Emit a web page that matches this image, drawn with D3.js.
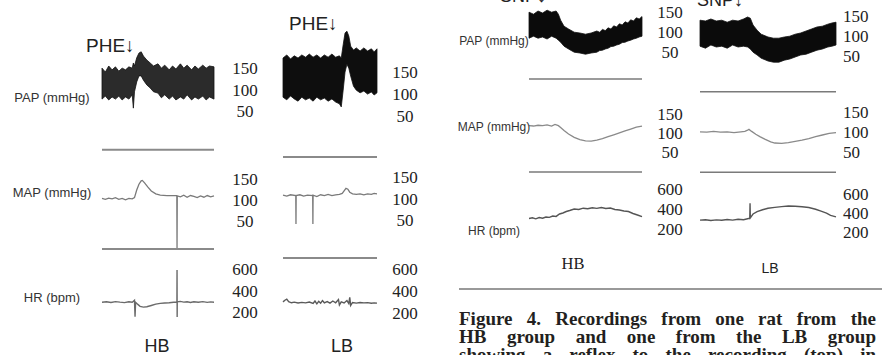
<!DOCTYPE html>
<html>
<head>
<meta charset="utf-8">
<script src="https://cdn.jsdelivr.net/npm/d3@7"></script>
<style>
  html, body { margin: 0; padding: 0; background: #fff; }
  svg { display: block; }
  text.tick-num { font-family: "Liberation Serif", "Times New Roman", serif; font-size: 17px; fill: #222; }
</style>
</head>
<body>
<svg id="fig" width="882" height="355"></svg>
<script>
// t = % of the recording window, pressures in mmHg, HR in bpm
const papTicks = [150, 100, 50];
const mapTicks = [150, 100, 50];
const hrTicks = [600, 400, 200];

const channelLabels = ['PAP (mmHg)', 'MAP (mmHg)', 'HR (bpm)'];
const drugLabels = ['PHE↓', 'PHE↓', 'SNP↓', 'SNP↓'];
const groupLabels = ['HB', 'LB', 'HB', 'LB'];
const captionLines = [
  'Figure 4. Recordings from one rat from the',
  'HB group and one from the LB group',
  'showing a reflex to the recording (top) in'
];

// phenylephrine, pulsatile pressure as [t, systolic, diastolic]
const phePapHB = [
  [0,152,80],[3,143,87],[6,157,78],[9,148,85],[12,155,80],[15,145,87],[18,152,78],
  [21,148,85],[24,155,80],[27,152,90],[28,164,59],[29,157,97],[31,176,120],[33,187,134],
  [35,190,134],[37,180,124],[40,171,113],[43,164,106],[46,157,97],[50,162,94],[53,152,83],
  [56,159,90],[60,148,80],[63,157,87],[66,150,78],[70,162,85],[73,152,80],[76,159,90],
  [80,148,78],[83,157,85],[86,150,80],[90,159,87],[93,152,78],[96,157,85],[100,155,80]
];
const pheMapHB = [
  [0,106],[3,104],[6,107],[9,105],[12,108],[15,104],[18,106],[21,103],[24,106],[27,105],
  [29,108],[31,126],[33,140],[35,148],[36,149],[38,143],[41,133],[44,124],[48,117],[52,114],
  [58,113],[64,113],[66.8,113],[67,-14],[67.2,112],[70,110],[73,114],[76,109],[79,113],
  [82,111],[85,108],[88,112],[91,109],[94,113],[97,110],[100,112]
];
const pheHrHB = [
  [0,300],[4,305],[8,298],[12,306],[16,301],[20,297],[24,304],[27,300],[29,318],[29.5,165],
  [30,300],[32,280],[34,262],[37,255],[40,258],[44,270],[48,282],[52,290],[56,293],[60,296],
  [64,300],[66.9,302],[67,600],[67.1,163],[67.2,304],[70,308],[73,301],[76,305],[79,298],
  [82,304],[86,300],[90,306],[94,299],[97,303],[100,300]
];
const phePapLB = [
  [0,184,95],[4,191,89],[8,182,98],[12,189,91],[16,184,86],[20,191,95],[24,186,89],
  [28,193,93],[32,186,86],[36,191,95],[40,184,89],[44,191,93],[48,186,86],[52,193,91],
  [56,186,84],[60,189,80],[62,184,73],[64,214,111],[66,241,152],[68,245,170],[70,234,161],
  [72,211,143],[75,202,120],[78,207,111],[82,200,105],[86,207,109],[90,200,102],
  [94,205,107],[97,198,100],[100,205,105]
];
const pheMapLB = [
  [0,110],[4,108],[8,111],[13.6,109],[13.8,43],[14,109],[18,111],[22,108],[26,110],
  [31.6,109],[31.8,43],[32,110],[36,107],[40,111],[44,109],[48,112],[52,109],[56,111],
  [60,112],[63,114],[65,120],[67,126],[69,124],[71,117],[74,113],[78,112],[82,113],
  [86,111],[90,113],[94,112],[97,114],[100,113]
];
const pheHrLB = [
  [0,310],[2,325],[4,335],[6,312],[9,302],[12,308],[16,300],[20,306],[24,301],[28,309],
  [32,296],[34,318],[36,292],[38,315],[40,298],[42,322],[44,302],[47,313],[50,299],
  [53,318],[56,302],[59,332],[60,282],[62,310],[65,300],[68,322],[70,295],[71,352],
  [72,278],[74,305],[78,299],[82,305],[86,301],[90,303],[94,298],[97,301],[100,299]
];

// sodium nitroprusside
const snpPapHB = [
  [0,152,87],[4,147,92],[8,155,87],[12,150,90],[16,157,85],[20,152,92],[24,155,87],
  [26,147,82],[28,132,77],[31,117,67],[35,110,60],[40,102,52],[45,100,50],[50,97,47],
  [55,100,50],[60,105,52],[62.5,102,56],[65,109,57],[67.5,106,60],[70,113,62],[72.5,110,66],
  [75,118,67],[77.5,115,70],[80,123,72],[82.5,120,76],[85,128,77],[87.5,125,80],[90,133,82],
  [92.5,130,85],[95,138,87],[97.5,135,90],[100,141,92]
];
const snpMapHB = [
  [0,122],[4,121],[8,123],[12,122],[16,124],[20,121],[23,125],[26,122],[28,117],[31,109],
  [35,100],[40,91],[45,85],[50,82],[55,81],[60,84],[65,88],[70,93],[75,98],[80,103],
  [85,108],[90,113],[95,118],[100,121]
];
const snpHrHB = [
  [0,315],[3,322],[6,312],[9,325],[12,318],[15,330],[18,326],[21,340],[24,336],[27,360],
  [30,370],[33,385],[36,395],[40,410],[44,405],[48,418],[52,412],[56,422],[60,416],
  [64,425],[68,415],[72,420],[76,405],[80,400],[84,390],[88,385],[92,365],[96,350],[100,333]
];
const snpPapLB = [
  [0,142,77],[4,140,72],[8,145,80],[12,140,75],[16,142,77],[20,137,72],[24,142,80],
  [28,140,75],[32,145,77],[35,150,75],[37,147,70],[39,130,62],[42,117,55],[45,107,47],
  [50,100,40],[54,97,37],[58,97,37],[62,100,42],[66,102,45],[70,107,50],[74,110,55],
  [78,115,57],[82,120,62],[86,125,67],[90,127,70],[94,132,75],[97,135,77],[100,137,80]
];
const snpMapLB = [
  [0,103],[5,102],[10,104],[15,102],[20,103],[25,101],[30,103],[33,104],[35,107],[36,109],
  [38,104],[41,97],[44,91],[48,84],[52,78],[55,75],[60,74],[65,76],[70,79],[75,82],
  [80,86],[85,91],[90,95],[95,99],[100,101]
];
const snpHrLB = [
  [0,335],[4,340],[8,332],[12,338],[16,334],[20,342],[24,336],[28,345],[32,340],[35,350],
  [36.6,355],[36.8,512],[37,360],[39,400],[42,425],[46,445],[50,460],[55,470],[60,478],
  [65,484],[70,482],[75,477],[80,468],[85,450],[89,430],[93,410],[96,385],[100,370]
];

// layout: x span of each recording, tick column, pixel rows for 50/150 mmHg and 200/600 bpm
const panels = [
  { pap: phePapHB, map: pheMapHB, hr: pheHrHB, x: [102, 214], tickX: 245, anchor: 'middle',
    yPap: [112, 69], yMap: [222, 180], yHr: [313, 270], papFloor: -38, mapFloor: -14,
    band: '#2b2b2b', trace: '#7a7a7a', hrTrace: '#6a6a6a', floor: '#8a8a8a', floorW: 2 },
  { pap: phePapLB, map: pheMapLB, hr: pheHrLB, x: [283, 377], tickX: 405, anchor: 'middle',
    yPap: [117, 73], yMap: [221, 178], yHr: [314, 270], papFloor: -41, mapFloor: -36,
    band: '#0e0e0e', trace: '#7a7a7a', hrTrace: '#5a5a5a', floor: '#8a8a8a', floorW: 2 },
  { pap: snpPapHB, map: snpMapHB, hr: snpHrHB, x: [529, 642], tickX: 670, anchor: 'middle',
    yPap: [53, 13], yMap: [153, 115], yHr: [230, 190], papFloor: -15, mapFloor: 0,
    band: '#0b0b0b', trace: '#8a8a8a', hrTrace: '#555', floor: '#7a7a7a', floorW: 1.6 },
  { pap: snpPapLB, map: snpMapLB, hr: snpHrLB, x: [700, 836], tickX: 843, anchor: 'start',
    yPap: [57, 17], yMap: [153, 113], yHr: [233, 195], papFloor: -37, mapFloor: 2,
    band: '#0b0b0b', trace: '#8a8a8a', hrTrace: '#555', floor: '#7a7a7a', floorW: 1.6 }
];

const svg = d3.select('#fig');

panels.forEach(p => {
  const x = d3.scaleLinear().domain([0, 100]).range(p.x);
  const yPap = d3.scaleLinear().domain([50, 150]).range(p.yPap);
  const yMap = d3.scaleLinear().domain([50, 150]).range(p.yMap);
  const yHr = d3.scaleLinear().domain([200, 600]).range(p.yHr);
  const g = svg.append('g');

  g.append('path')
    .datum(p.pap)
    .attr('d', d3.area().x(d => x(d[0])).y0(d => yPap(d[2])).y1(d => yPap(d[1])))
    .attr('fill', p.band)
    .attr('stroke', '#111')
    .attr('stroke-width', 0.8);

  g.append('path')
    .datum(p.map)
    .attr('d', d3.line().x(d => x(d[0])).y(d => yMap(d[1])))
    .attr('fill', 'none')
    .attr('stroke', p.trace)
    .attr('stroke-width', 1.3);

  g.append('path')
    .datum(p.hr)
    .attr('d', d3.line().x(d => x(d[0])).y(d => yHr(d[1])))
    .attr('fill', 'none')
    .attr('stroke', p.hrTrace)
    .attr('stroke-width', 1.4);

  [[yPap, p.papFloor], [yMap, p.mapFloor]].forEach(([y, v]) => {
    g.append('line')
      .attr('x1', x(0)).attr('x2', x(100))
      .attr('y1', y(v)).attr('y2', y(v))
      .attr('stroke', p.floor)
      .attr('stroke-width', p.floorW);
  });

  // tick numbers placed by the channel scales
  [[yPap, papTicks], [yMap, mapTicks], [yHr, hrTicks]].forEach(([y, ticks]) => {
    g.append('g')
      .selectAll('text')
      .data(ticks)
      .join('text')
      .attr('class', 'tick-num')
      .attr('x', p.tickX)
      .attr('y', d => y(d))
      .attr('dy', '0.32em')
      .attr('text-anchor', p.anchor)
      .text(d => d);
  });
});

// channel names, left and right figures
const labelPos = [
  { x: 52, y: [97, 192, 297], size: 13 },
  { x: 494, y: [41, 127, 231], size: 12 }
];
labelPos.forEach(lp => {
  channelLabels.forEach((t, i) => {
    svg.append('text')
      .attr('x', lp.x).attr('y', lp.y[i])
      .attr('dy', '0.35em')
      .attr('text-anchor', 'middle')
      .attr('fill', '#333')
      .style('font-family', '"Liberation Sans", Arial, sans-serif')
      .style('font-size', lp.size + 'px')
      .text(t);
  });
});

const drugPos = [[86, 52, 19], [289, 30, 19], [500, 2, 18], [697, 6, 18]];
drugLabels.forEach((t, i) => {
  svg.append('text')
    .attr('x', drugPos[i][0]).attr('y', drugPos[i][1])
    .attr('fill', '#222')
    .style('font-family', '"Liberation Sans", Arial, sans-serif')
    .style('font-size', drugPos[i][2] + 'px')
    .text(t);
});

const groupPos = [
  [157, 352, 18, 'sans'], [342, 352, 18, 'sans'],
  [573, 269, 16.5, 'serif'], [770, 273, 14, 'sans']
];
groupLabels.forEach((t, i) => {
  const [gx, gy, fs, fam] = groupPos[i];
  svg.append('text')
    .attr('x', gx).attr('y', gy)
    .attr('text-anchor', 'middle')
    .attr('fill', '#222')
    .style('font-family', fam === 'serif' ? '"Liberation Serif", serif' : '"Liberation Sans", Arial, sans-serif')
    .style('font-size', fs + 'px')
    .text(t);
});

// caption block
svg.append('line')
  .attr('x1', 459).attr('x2', 882)
  .attr('y1', 289).attr('y2', 289)
  .attr('stroke', '#777')
  .attr('stroke-width', 1.5);

const capLeft = 459, capRight = 876;
captionLines.forEach((t, i) => {
  const txt = svg.append('text')
    .attr('x', capLeft).attr('y', 325 + i * 18)
    .attr('fill', '#231f20')
    .style('font-family', '"Liberation Serif", "Times New Roman", serif')
    .style('font-weight', 'bold')
    .style('font-size', '19px')
    .text(t);
  const natural = txt.node().getComputedTextLength();
  const gaps = t.split(' ').length - 1;
  if (gaps > 0) txt.style('word-spacing', ((capRight - capLeft - natural) / gaps) + 'px');
});
</script>
</body>
</html>
